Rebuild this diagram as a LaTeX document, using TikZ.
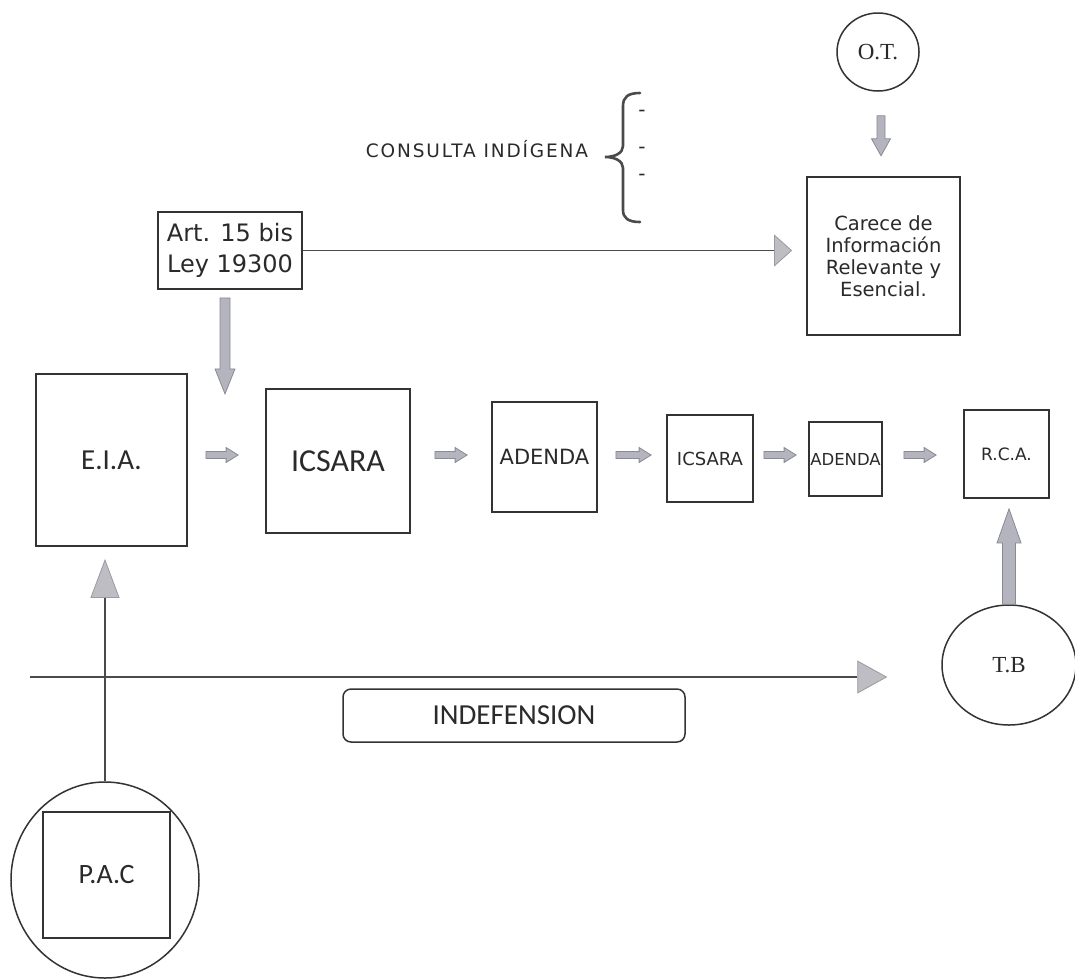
\documentclass[tikz,border=0pt]{standalone}
\usepackage{fontspec}
\usetikzlibrary{calc,arrows.meta,shapes.geometric}
\newfontfamily\dejavu{DejaVu Sans}
\newfontfamily\dejavusp[LetterSpace=10]{DejaVu Sans}
\newfontfamily\carl{Carlito}
\newfontfamily\libser{Liberation Serif}

\definecolor{boxedge}{HTML}{333333}
\definecolor{lineedge}{HTML}{4A4A4A}
\definecolor{arrowfill}{HTML}{B4B4BF}
\definecolor{arrowedge}{HTML}{8A8A95}
\definecolor{tipfill}{HTML}{BDBDC3}
\definecolor{tipedge}{HTML}{9A9AA0}
\definecolor{inktext}{HTML}{2A2A2A}

\tikzset{
  stepbox/.style={draw=boxedge, line width=1.8, rectangle, inner sep=0pt,
    text=inktext, align=center},
  roundnode/.style={draw=boxedge, line width=1.5, ellipse, inner sep=0pt,
    text=inktext},
  thinline/.style={draw=lineedge, line width=1.6},
  dashitem/.style={text=inktext, font=\dejavu\fontsize{20}{22}\selectfont, inner sep=0pt},
  % block arrow drawn between two points: half shaft, half head, head length
  blockarrow/.style n args={3}{
    draw=arrowedge, fill=arrowfill, line width=0.8, line join=miter,
    to path={
      ($(\tikztostart)!#1!90:(\tikztotarget)$)
      -- ($($(\tikztotarget)!#3!(\tikztostart)$)!#1!-90:(\tikztostart)$)
      -- ($($(\tikztotarget)!#3!(\tikztostart)$)!#2!-90:(\tikztostart)$)
      -- (\tikztotarget)
      -- ($($(\tikztotarget)!#3!(\tikztostart)$)!#2!90:(\tikztostart)$)
      -- ($($(\tikztotarget)!#3!(\tikztostart)$)!#1!90:(\tikztostart)$)
      -- ($(\tikztostart)!#1!-90:(\tikztotarget)$)
      -- cycle
    }
  },
  rowarrow/.style={blockarrow={3.5pt}{7.5pt}{12pt}}
}

\begin{document}
\begin{tikzpicture}[x=1pt,y=-1pt]
\useasboundingbox[fill=white] (0,0) rectangle (1075,978);

% top: O.T. and the missing-information box
\node[roundnode, minimum width=82, minimum height=78, font=\libser\fontsize{23}{26}\selectfont]
  (ot) at (878,52) {O.T.};
\node[stepbox, minimum width=153, minimum height=158, font=\dejavu\fontsize{19.5}{22}\selectfont]
  (carece) at (883.5,256) {Carece de\\Información\\Relevante y\\Esencial.};

% indigenous consultation with its brace and items
\node[text=inktext, font=\dejavusp\fontsize{18.5}{22}\selectfont, inner sep=0pt]
  (consulta) at (477,149) {CONSULTA INDÍGENA};
\draw[draw=lineedge, line width=2.6, line cap=round]
  (640,93) .. controls (628,93) and (623,97) .. (623,106) -- (623,146)
  .. controls (623,153) and (615,157) .. (605,157)
  .. controls (615,157) and (623,161) .. (623,168) -- (623,210)
  .. controls (623,218) and (628,222) .. (640,222);
\node[dashitem] (d1) at (642,113) {-};
\node[dashitem] (d2) at (642,150) {-};
\node[dashitem] (d3) at (642,177) {-};

% legal reference
\node[stepbox, minimum width=144, minimum height=77, font=\dejavu\fontsize{24}{31}\selectfont]
  (art) at (230,250.5) {Art. 15 bis\\Ley 19300};

% main row of the procedure
\node[stepbox, minimum width=151, minimum height=172, font=\carl\fontsize{29}{32}\selectfont]
  (eia) at (111.5,460) {E.I.A.};
\node[stepbox, minimum width=144, minimum height=144, font=\carl\fontsize{32}{36}\selectfont]
  (icsara) at (338,461) {ICSARA};
\node[stepbox, minimum width=105, minimum height=110, font=\dejavu\fontsize{21}{24}\selectfont]
  (adenda) at (544.5,457) {ADENDA};
\node[stepbox, minimum width=86, minimum height=87, font=\dejavu\fontsize{18}{22}\selectfont]
  (icsarab) at (710,458.5) {ICSARA};
\node[stepbox, minimum width=73, minimum height=74, font=\dejavu\fontsize{16.5}{20}\selectfont]
  (adendab) at (845.5,459) {ADENDA};
\node[stepbox, minimum width=85, minimum height=88, font=\dejavu\fontsize{17}{20}\selectfont]
  (rca) at (1006.5,454) {R.C.A.};

% lower part
\node[roundnode, minimum width=134, minimum height=120, font=\libser\fontsize{23}{26}\selectfont]
  (tb) at (1009,665) {T.B};
\node[draw=boxedge, line width=1.5, rounded corners=8, minimum width=342, minimum height=53,
  inner sep=0pt, text=inktext, font=\carl\fontsize{29}{32}\selectfont]
  (indef) at (514,715.5) {INDEFENSION};
\node[roundnode, minimum width=188, minimum height=196] (paccirc) at (105,880) {};
\node[stepbox, minimum width=127, minimum height=126, font=\carl\fontsize{28}{32}\selectfont]
  (pac) at (106.5,875) {P.A.C};

% thin connectors with grey triangular heads
\draw[thinline, shorten >=14pt,
  -{Triangle[length=18pt,width=32pt,fill=tipfill,color=tipedge,line width=0.8pt]}]
  (art.east) -- (art.east -| carece.west);
\coordinate (indstart) at (30,677);
\draw[thinline, shorten >=54pt,
  -{Triangle[length=30pt,width=33pt,fill=tipfill,color=tipedge,line width=0.8pt]}]
  (indstart) -- (indstart -| tb.west);
\draw[thinline, shorten >=12pt,
  -{Triangle[length=39pt,width=29pt,fill=tipfill,color=tipedge,line width=0.8pt]}]
  (paccirc.north) -- (paccirc.north |- eia.south);

% block arrows
\coordinate (row) at (0,455);
\coordinate (a1s) at ($(eia.east |- row)+(18,0)$);
\coordinate (a1e) at ($(icsara.west |- row)+(-27,0)$);
\coordinate (a2s) at ($(icsara.east |- row)+(24,0)$);
\coordinate (a2e) at ($(adenda.west |- row)+(-24,0)$);
\coordinate (a3s) at ($(adenda.east |- row)+(18,0)$);
\coordinate (a3e) at ($(icsarab.west |- row)+(-15,0)$);
\coordinate (a4s) at ($(icsarab.east |- row)+(10,0)$);
\coordinate (a4e) at ($(adendab.west |- row)+(-12,0)$);
\coordinate (a5s) at ($(adendab.east |- row)+(21,0)$);
\coordinate (a5e) at ($(rca.west |- row)+(-27,0)$);
\draw[rowarrow] (a1s) to (a1e);
\draw[rowarrow] (a2s) to (a2e);
\draw[rowarrow] (a3s) to (a3e);
\draw[rowarrow] (a4s) to (a4e);
\draw[rowarrow] (a5s) to (a5e);

\coordinate (artas) at ($(art.south)+(-5,8)$);
\coordinate (artae) at ($(art.south)+(-5,104)$);
\draw[blockarrow={5pt}{10pt}{25pt}] (artas) to (artae);

\coordinate (otas) at ($(ot.south)+(3,24)$);
\coordinate (otae) at ($(ot.south)+(3,64)$);
\draw[blockarrow={4pt}{9.5pt}{17pt}] (otas) to (otae);

\coordinate (tbas) at (tb.north);
\coordinate (tbae) at ($(tb.north |- rca.south)+(0,10)$);
\draw[blockarrow={6.5pt}{12pt}{34pt}] (tbas) to (tbae);
\end{tikzpicture}
\end{document}
